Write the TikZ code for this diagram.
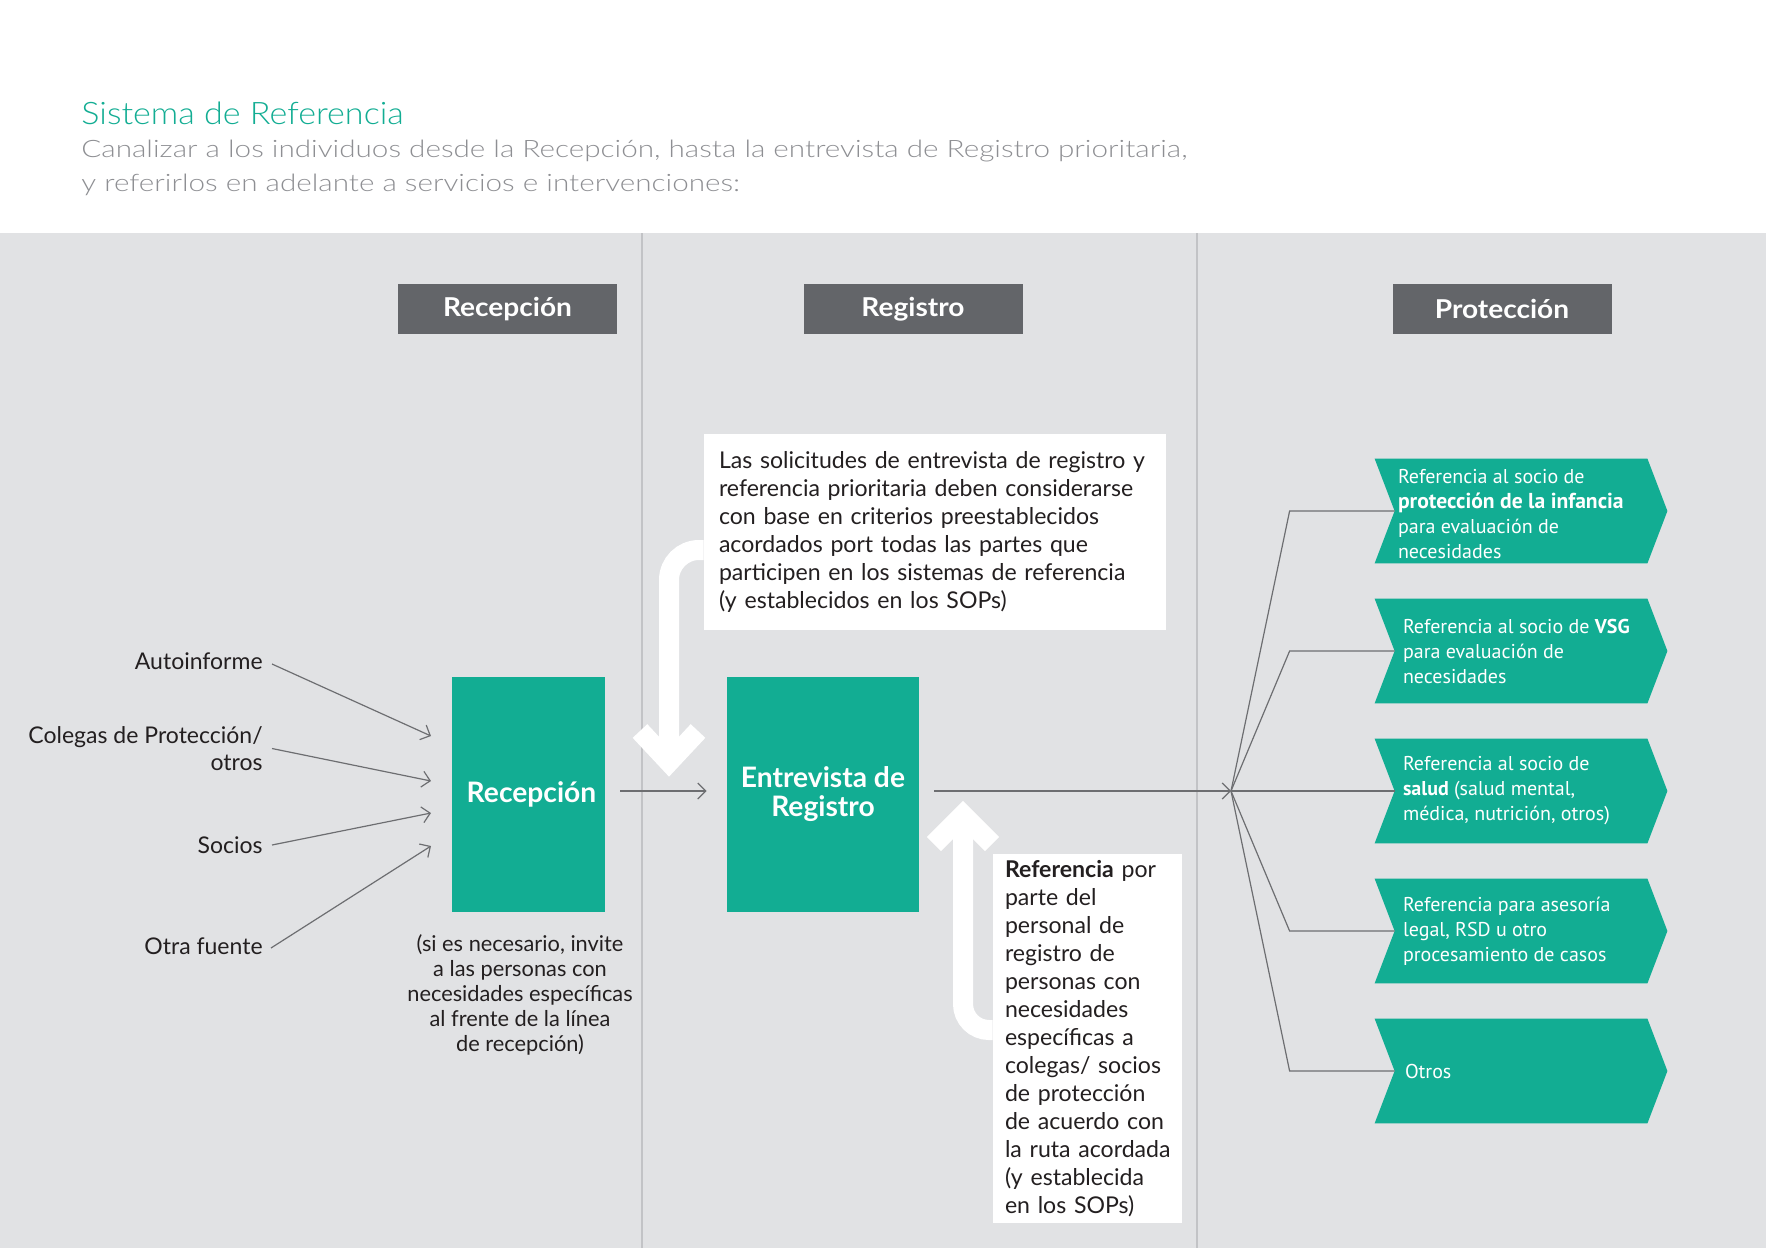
\documentclass[tikz,border=0pt]{standalone}
\usepackage{fontspec}
\setmainfont{Lato}
\newfontfamily\chevfont{PT Sans}
\IfFontExistsTF{Lato Light}{%
  \newfontfamily\titlefont[FakeStretch=1.1]{Lato Light}%
  \newfontfamily\subfont[FakeStretch=1.236]{Lato Light}}{%
  \newfontfamily\titlefont[FakeStretch=1.1]{Lato}%
  \newfontfamily\subfont[FakeStretch=1.236]{Lato}}
\newfontfamily\hdrfont[FakeStretch=1.08]{Lato}
\usetikzlibrary{arrows.meta,calc}
\definecolor{brandgreen}{HTML}{12AD93}
\definecolor{bggray}{HTML}{E1E2E4}
\definecolor{divgray}{HTML}{C2C3C6}
\definecolor{hdrgray}{HTML}{636569}
\definecolor{conngray}{HTML}{6D6E71}
\definecolor{subgray}{HTML}{8E8F93}
\definecolor{ink}{HTML}{231F20}
\tikzset{
  hdr/.style={fill=hdrgray, text=white, font=\hdrfont\bfseries\fontsize{13}{14}\selectfont, minimum width=109.5pt, minimum height=25pt, inner sep=0pt},
  lbl/.style={font=\fontsize{11.5}{13.5}\selectfont, text=ink, inner sep=0pt, align=right},
  greenbox/.style={fill=brandgreen, text=white, font=\bfseries\fontsize{14.1}{14.5}\selectfont, inner sep=0pt, align=center},
  whitebox/.style={fill=white, text=ink, font=\fontsize{11.55}{14}\selectfont, align=left,
    execute at begin node={\hyphenpenalty=10000\exhyphenpenalty=10000\hbadness=10000\hfuzz=20pt}},
  conn/.style={draw=conngray, line width=0.6pt},
  arr/.style={conn, -{Straight Barb[length=4pt,width=8pt,line width=0.6pt]}},
  bigarrow/.style={draw=white, line width=10pt},
  chevbox/.style={minimum width=126pt, minimum height=52pt, inner sep=0pt},
  chevtext/.style={text=white, font=\chevfont\fontsize{10}{12.5}\selectfont, align=left, inner sep=0pt, anchor=west},
}
\newcommand\chevron[2]{%
  \node[chevbox] (#1) at (1521,#2) {};
  \fill[brandgreen] ([xshift=-10pt]#1.north west) -- (#1.north east) -- ([xshift=10pt]#1.east) -- (#1.south east) -- ([xshift=-10pt]#1.south west) -- (#1.west) -- cycle;
}
\begin{document}
\begin{tikzpicture}[x=0.5pt,y=-0.5pt]
\useasboundingbox (0,0) rectangle (1766,1248);
\fill[white] (0,0) rectangle (1766,1248);
\fill[bggray] (0,233) rectangle (1766,1248);
\draw[divgray, line width=1pt] (642,233) -- (642,1248);
\draw[divgray, line width=1pt] (1197,233) -- (1197,1248);

% title
\node[anchor=base west, inner sep=0pt, text=brandgreen, font=\titlefont\fontsize{15.5}{18}\selectfont] (title) at (81,124) {Sistema de Referencia};
\node[anchor=base west, inner sep=0pt, text=subgray, font=\subfont\fontsize{12}{17}\selectfont] (sub1) at (81,157) {Canalizar a los individuos desde la Recepción, hasta la entrevista de Registro prioritaria,};
\node[anchor=base west, inner sep=0pt, text=subgray, font=\subfont\fontsize{12}{17}\selectfont] (sub2) at (81,191) {y referirlos en adelante a servicios e intervenciones:};

% column headers
\node[hdr] (h1) at (507.5,309) {Recepción};
\node[hdr] (h2) at (913,309) {Registro};
\node[hdr] (h3) at (1502,309) {Protección};

% left labels
\node[lbl, anchor=east] (l1) at (263,661) {Autoinforme};
\node[lbl, anchor=east] (l2) at (263,748.5) {Colegas de Protección/\\otros};
\node[lbl, anchor=east] (l3) at (263,845) {Socios};
\node[lbl, anchor=east] (l4) at (263,946) {Otra fuente};
\coordinate (in1) at (431,736);
\coordinate (in2) at (431,781);
\coordinate (in3) at (431,813);
\coordinate (in4) at (431,846);
\draw[arr] ([xshift=4.5pt,yshift=-1.5pt]l1.east) -- (in1);
\draw[arr] ([xshift=4.5pt]l2.east) -- (in2);
\draw[arr] ([xshift=4.5pt]l3.east) -- (in3);
\draw[arr] ([xshift=4pt,yshift=-1pt]l4.east) -- (in4);

% green boxes
\node[greenbox, minimum width=76.5pt, minimum height=117.5pt] (recep) at (528.5,794.5) {\hspace*{3pt}Recepción};
\node[greenbox, minimum width=96pt, minimum height=117.5pt] (entrev) at (823,794.5) {Entrevista de\\Registro};
\node[lbl, align=center, font=\fontsize{10.9}{12.5}\selectfont, anchor=north] (cap) at (520,934) {(si es necesario, invite\\a las personas con\\necesidades específicas\\al frente de la línea\\de recepción)};

\draw[arr] ($(recep.east)+(15,-3.5)$) -- ($(entrev.west)+(-20,-3.5)$);

% white text boxes
\node[whitebox, text width=216pt, inner xsep=7.5pt, minimum height=98pt] (topbox) at (935,532) {Las solicitudes de entrevista de registro y\\referencia prioritaria deben considerarse\\con base en criterios preestablecidos\\acordados port todas las partes que\\participen en los sistemas de referencia\\(y establecidos en los SOPs)};
\node[whitebox, text width=82.5pt, inner xsep=6pt, minimum height=183.5pt] (botbox) at (1087.5,1038.5) {\textbf{Referencia} por\\parte del\\personal de\\registro de\\personas con\\necesidades\\específicas a\\colegas/ socios\\de protección\\de acuerdo con\\\mbox{la ruta acordada}\\(y establecida\\en los SOPs)};

% big white arrows
\coordinate (ta0) at (topbox.west |- 0,550);
\coordinate (tatip) at (669,762);
\draw[bigarrow, rounded corners=15pt] (ta0) -- (669,550) -- (tatip);
\draw[bigarrow, miter limit=10] (640,731) -- (tatip) -- (698,731);
\coordinate (ba0) at (botbox.west |- 0,1030);
\coordinate (batip) at (963,815);
\draw[bigarrow, rounded corners=13pt] (ba0) -- (963,1030) -- (batip);
\draw[bigarrow, miter limit=10] (934,844) -- (batip) -- (992,844);

% fan to protection
\coordinate (fan) at (1231,791);
\draw[arr] ($(entrev.east)+(15,-3.5)$) -- (fan);

\chevron{ch1}{511}
\chevron{ch2}{651}
\chevron{ch3}{791}
\chevron{ch4}{931}
\chevron{ch5}{1071}

\foreach \c in {ch1,ch2,ch4,ch5}{
  \draw[conn] (fan) -- ([xshift=-52.5pt]\c.west) -- (\c.west);
}
\draw[conn] (fan) -- (ch3.west);

\node[chevtext] (t1) at ([xshift=1.5pt,yshift=-1.5pt]ch1.west) {Referencia al socio de\\{\fontsize{10.8}{12.5}\selectfont\textbf{protección de la infancia}}\\para evaluación de\\necesidades};
\node[chevtext] (t2) at ([xshift=4pt]ch2.west) {Referencia al socio de \textbf{VSG}\\para evaluación de\\necesidades};
\node[chevtext] (t3) at ([xshift=4pt]ch3.west) {Referencia al socio de\\\textbf{salud} (salud mental,\\médica, nutrición, otros)};
\node[chevtext] (t4) at ([xshift=4pt]ch4.west) {Referencia para asesoría\\legal, RSD u otro\\procesamiento de casos};
\node[chevtext] (t5) at ([xshift=5pt]ch5.west) {Otros};
\end{tikzpicture}
\end{document}
